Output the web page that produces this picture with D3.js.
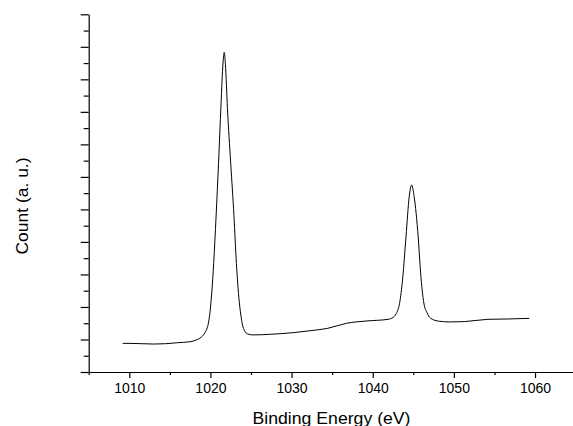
<!DOCTYPE html>
<html>
<head>
<meta charset="utf-8">
<script src="https://cdnjs.cloudflare.com/ajax/libs/d3/7.9.0/d3.min.js"></script>
<style>
  html, body { margin: 0; padding: 0; background: #fff; }
  svg { display: block; }
  .axis text { font-family: "Liberation Sans", Arial, sans-serif; font-size: 14px; fill: #000; }
  .axis path, .axis line { stroke: #000; stroke-width: 1.2; }
</style>
</head>
<body>
<div id="chart"></div>
<script>
// ---- spectrum (binding energy in eV, count in a.u.) ----
const energy = [1009.2, 1010.2, 1011.6, 1013.0, 1014.5, 1015.9, 1017.5, 1018.2, 1018.7, 1019.0, 1019.3, 1019.55,
  1019.75, 1019.95, 1020.15, 1020.4, 1020.7, 1021.0, 1021.3, 1021.55, 1021.7, 1021.85, 1022.1, 1022.5, 1022.9,
  1023.2, 1023.5, 1023.75, 1023.95, 1024.2, 1024.6, 1025.2, 1027.4, 1030.2, 1032.3, 1034.4, 1036.8, 1039.3,
  1041.9, 1042.5, 1042.9, 1043.3, 1043.7, 1044.1, 1044.5, 1044.8, 1045.1, 1045.6, 1045.9, 1046.3, 1046.7,
  1047.1, 1048.2, 1049.5, 1051.3, 1054.2, 1056.6, 1059.3];
const counts = [0.88, 0.88, 0.87, 0.86, 0.87, 0.90, 0.93, 0.98, 1.04, 1.10, 1.20, 1.32,
  1.50, 1.85, 2.40, 3.34, 4.80, 6.42, 8.20, 9.50, 9.83, 9.45, 8.10, 6.42, 4.80,
  3.34, 2.30, 1.75, 1.45, 1.27, 1.17, 1.14, 1.16, 1.21, 1.27, 1.34, 1.50, 1.57,
  1.62, 1.68, 1.80, 2.10, 2.90, 4.16, 5.40, 5.75, 5.40, 4.16, 3.05, 2.12, 1.82,
  1.66, 1.56, 1.54, 1.55, 1.62, 1.63, 1.65];

const xMajor = [1010, 1020, 1030, 1040, 1050, 1060];
const xMinor = [1005, 1015, 1025, 1035, 1045, 1055, 1065];
const yMajor = d3.range(0, 12, 1);
const yMinor = d3.range(0.5, 11, 1);

const W = 573, H = 426;
const plotL = 88.7, plotR = 575.6, plotT = 14.3, plotB = 372;

const svg = d3.select('#chart').append('svg')
  .attr('width', W).attr('height', H);

const x = d3.scaleLinear().domain([1005, 1065]).range([plotL, plotR]);
const y = d3.scaleLinear().domain([0, 11]).range([plotB, plotT]);

// x axis: minor ticks first, then labelled majors
svg.append('g').attr('class', 'axis')
  .attr('transform', `translate(0,${plotB})`)
  .call(d3.axisBottom(x).tickValues(xMinor).tickSize(3).tickSizeOuter(0).tickFormat(''));
svg.append('g').attr('class', 'axis')
  .attr('transform', `translate(0,${plotB})`)
  .call(d3.axisBottom(x).tickValues(xMajor).tickSize(6).tickSizeOuter(0).tickPadding(5).tickFormat(d3.format('d')))
  .call(g => g.select('.domain').remove());

// y axis: no labels, alternating long/short ticks
svg.append('g').attr('class', 'axis')
  .attr('transform', `translate(${plotL},0)`)
  .call(d3.axisLeft(y).tickValues(yMinor).tickSize(5).tickSizeOuter(0).tickFormat(''));
svg.append('g').attr('class', 'axis')
  .attr('transform', `translate(${plotL},0)`)
  .call(d3.axisLeft(y).tickValues(yMajor).tickSize(8).tickSizeOuter(0).tickFormat(''))
  .call(g => g.select('.domain').remove());

// spectrum line
const pts = energy.map((e, i) => [e, counts[i]]);
const line = d3.line()
  .x(d => x(d[0]))
  .y(d => y(d[1]))
  .curve(d3.curveMonotoneX);

svg.append('path')
  .datum(pts)
  .attr('d', line)
  .attr('fill', 'none')
  .attr('stroke', '#000')
  .attr('stroke-width', 1);

// axis titles
svg.append('text')
  .attr('x', 331.5).attr('y', 424)
  .attr('text-anchor', 'middle')
  .attr('font-family', '"Liberation Sans", Arial, sans-serif')
  .attr('font-size', 16.5)
  .attr('textLength', 158)
  .attr('lengthAdjust', 'spacingAndGlyphs')
  .text('Binding Energy (eV)');

svg.append('text')
  .attr('transform', 'translate(28,206) rotate(-90)')
  .attr('text-anchor', 'middle')
  .attr('font-family', '"Liberation Sans", Arial, sans-serif')
  .attr('font-size', 16.5)
  .attr('textLength', 97)
  .attr('lengthAdjust', 'spacingAndGlyphs')
  .text('Count (a. u.)');
</script>
</body>
</html>
